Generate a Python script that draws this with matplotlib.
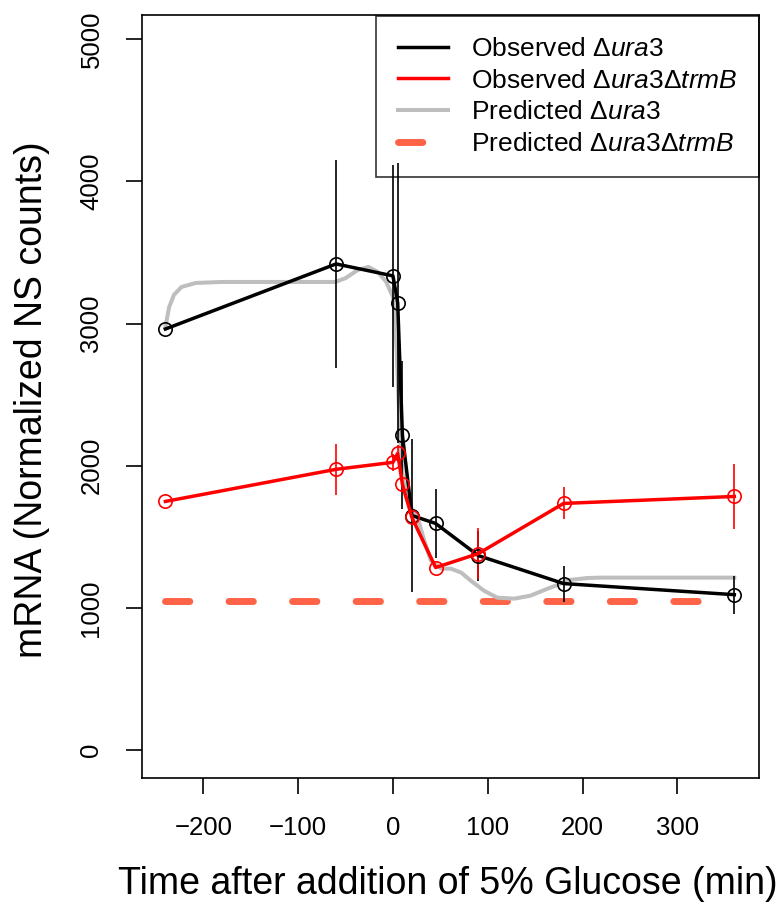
import numpy as np
import matplotlib.pyplot as plt

plt.rcParams['font.family'] = ['Liberation Sans', 'DejaVu Sans']
plt.rcParams['mathtext.fontset'] = 'custom'
plt.rcParams['mathtext.rm'] = 'Liberation Sans'
plt.rcParams['mathtext.it'] = 'Liberation Sans:italic'

# observed time points (min)
times = [-240, -60, 0, 5, 10, 20, 45, 90, 180, 360]

# observed ura3
obs_ura3 = [2962, 3420, 3336, 3145, 2214, 1650, 1594, 1368, 1171, 1093]
err_ura3 = [0, 734, 780, 987, 520, 536, 244, 176, 127, 134]

# observed ura3 trmB
obs_trmb = [1749, 1975, 2024, 2087, 1869, 1636, 1284, 1382, 1735, 1784]
err_trmb = [0, 180, 60, 60, 0, 0, 0, 180, 113, 230]

# predicted ura3 (model curve)
pred_t = [-240, -236, -231, -223, -208, -181, -100, -61, -50, -37, -26, -16, -7, -2,
          0, 2, 4, 6, 8, 10, 13, 16, 19, 26, 33, 40, 51, 61, 72, 82, 96, 110, 128,
          145, 163, 173, 184, 205, 218, 360]
pred_ura3 = [2976, 3117, 3202, 3258, 3286, 3293, 3293, 3293, 3320, 3378, 3399, 3364,
             3293, 3216, 3190, 3050, 2800, 2450, 2150, 1950, 1800, 1740, 1707, 1636,
             1474, 1333, 1276, 1276, 1248, 1192, 1121, 1072, 1065, 1086, 1135, 1160,
             1195, 1210, 1213, 1213]

# predicted ura3 trmB (constant)
pred_trmb_t = [-240, 360]
pred_trmb = [1050, 1050]

fig = plt.figure(figsize=(7.81, 9.07), dpi=100)
ax = fig.add_axes([0.1814, 0.1422, 0.7904, 0.8412])

ax.plot(pred_trmb_t, pred_trmb, color='#FF6347', lw=5, ls=(0, (3.5, 5.65)),
        dash_capstyle='round', zorder=1)
ax.plot(pred_t, pred_ura3, color='#BEBEBE', lw=2.9, zorder=2)

ax.vlines(times, np.array(obs_ura3) - err_ura3, np.array(obs_ura3) + err_ura3,
          color='black', lw=1.2, zorder=3)
ax.vlines(times, np.array(obs_trmb) - err_trmb, np.array(obs_trmb) + err_trmb,
          color='red', lw=1.2, zorder=3)
ax.plot(times, obs_ura3, color='black', lw=2.5, marker='o', ms=9.6, mfc='none',
        mew=1.2, zorder=4)
ax.plot(times, obs_trmb, color='red', lw=2.5, marker='o', ms=9.6, mfc='none',
        mew=1.2, zorder=4)

ax.set_xlim(-265, 386)
ax.set_ylim(-197, 5171)
ax.set_xticks([-200, -100, 0, 100, 200, 300])
ax.set_yticks([0, 1000, 2000, 3000, 4000, 5000])
ax.set_yticklabels(['0', '1000', '2000', '3000', '4000', '5000'],
                   rotation=90, va='center')
ax.tick_params(labelsize=18.5, length=11.5, width=1.2, pad=16)
for s in ax.spines.values():
    s.set_linewidth(1.2)

fig.text(448 / 781, 1 - 884 / 907, 'Time after addition of 5% Glucose (min)',
         fontsize=27, ha='center', va='center')
fig.text(32 / 781, 1 - 400 / 907, 'mRNA (Normalized NS counts)',
         fontsize=27, ha='center', va='center', rotation=90)

labels = [r'Observed Δ$\mathit{ura}$3',
          r'Observed Δ$\mathit{ura}$3Δ$\mathit{trmB}$',
          r'Predicted Δ$\mathit{ura}$3',
          r'Predicted Δ$\mathit{ura}$3Δ$\mathit{trmB}$']
handles = [plt.Line2D([], [], color='black', lw=2.5),
           plt.Line2D([], [], color='red', lw=2.5),
           plt.Line2D([], [], color='#BEBEBE', lw=2.9),
           plt.Line2D([], [], color='#FF6347', lw=5, ls=(0, (3.5, 5.65)),
                      dash_capstyle='round')]
leg = ax.legend(handles, labels, loc='upper right', bbox_to_anchor=(1.0, 0.999),
                fontsize=19, frameon=True, fancybox=False, borderaxespad=0,
                handlelength=1.9, handletextpad=0.9, labelspacing=0.29,
                borderpad=0.8)
leg.get_frame().set_edgecolor('black')
leg.get_frame().set_linewidth(1.2)
leg.get_frame().set_facecolor('none')

fig.savefig('out.png', dpi=100)
